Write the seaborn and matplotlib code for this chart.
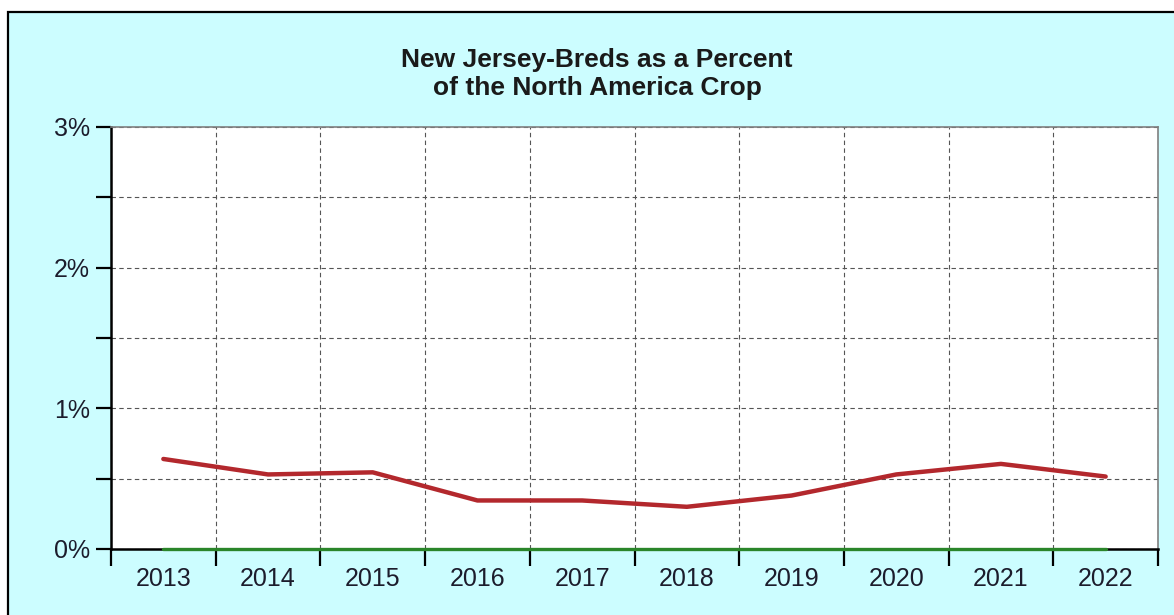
import pandas as pd
import seaborn as sns
import matplotlib.pyplot as plt
from matplotlib.patches import Rectangle
from matplotlib.ticker import MultipleLocator, FixedLocator, NullFormatter

# Data (percent of North America crop)
years = ["2013", "2014", "2015", "2016", "2017", "2018", "2019", "2020", "2021", "2022"]
nj_pct = [0.64, 0.53, 0.545, 0.345, 0.345, 0.30, 0.38, 0.53, 0.605, 0.515]
zero_line = [0, 0, 0, 0, 0, 0, 0, 0, 0, 0]

df = pd.DataFrame({"Year": years, "Percent": nj_pct, "Zero": zero_line})

sns.set_style("white")
plt.rcParams["font.family"] = ["Liberation Sans", "DejaVu Sans"]

fig = plt.figure(figsize=(11.74, 6.15), dpi=100)
fig.patch.set_facecolor("white")
# cyan panel with black frame, behind everything
fig.patches.append(Rectangle((8 / 1174, -0.01), 1.05, 1 - 12 / 615 + 0.01,
                             transform=fig.transFigure, facecolor="#ccfdff",
                             edgecolor="black", linewidth=1.6, zorder=-10))

ax = fig.add_axes([111 / 1174, 1 - 549 / 615, (1158 - 111) / 1174, (549 - 127) / 615])
ax.set_facecolor("white")

sns.lineplot(data=df, x="Year", y="Percent", ax=ax, color="#b3282d", linewidth=3.2,
             sort=False, zorder=4)
sns.lineplot(data=df, x="Year", y="Zero", ax=ax, color="#2a852a", linewidth=2.4,
             sort=False, zorder=5, clip_on=False)

ax.set_xlim(-0.5, len(years) - 0.5)
ax.set_ylim(0, 3)

# x: ticks/grid at category boundaries, labels at centers
ax.xaxis.set_major_locator(FixedLocator([i - 0.5 for i in range(len(years) + 1)]))
ax.xaxis.set_major_formatter(NullFormatter())
ax.xaxis.set_minor_locator(FixedLocator(list(range(len(years)))))
ax.set_xticklabels(years, minor=True)
ax.tick_params(axis="x", which="major", bottom=True, direction="out", length=12, width=1.6,
               color="black")
ax.tick_params(axis="x", which="minor", bottom=True, length=0, pad=13, labelsize=18,
               labelcolor="#1c1c2c")

# y: labels at whole percents, ticks and grid every half percent
ax.yaxis.set_major_locator(MultipleLocator(1))
ax.yaxis.set_minor_locator(MultipleLocator(0.5))
ax.set_yticks([0, 1, 2, 3])
ax.set_yticklabels([f"{v}%" for v in [0, 1, 2, 3]])
ax.tick_params(axis="y", which="both", left=True, direction="out", length=11, width=1.6,
               color="black", labelsize=18, labelcolor="#1c1c2c", pad=4)

ax.grid(True, which="major", axis="x", linestyle=(0, (4, 3)), color="#555555", linewidth=0.8)
ax.grid(True, which="both", axis="y", linestyle=(0, (4, 3)), color="#555555", linewidth=0.8)
ax.set_axisbelow(True)

ax.set_xlabel("")
ax.set_ylabel("")
for side in ["left", "bottom"]:
    ax.spines[side].set_color("black")
    ax.spines[side].set_linewidth(1.8)
for side in ["top", "right"]:
    ax.spines[side].set_color("#808080")
    ax.spines[side].set_linewidth(1.2)

fig.text(597 / 1174, 1 - 74 / 615, "New Jersey-Breds as a Percent\nof the North America Crop",
         ha="center", va="center", fontsize=19, fontweight="bold", color="#1a1a1a",
         linespacing=1.25)

fig.savefig("out.png", dpi=100)
